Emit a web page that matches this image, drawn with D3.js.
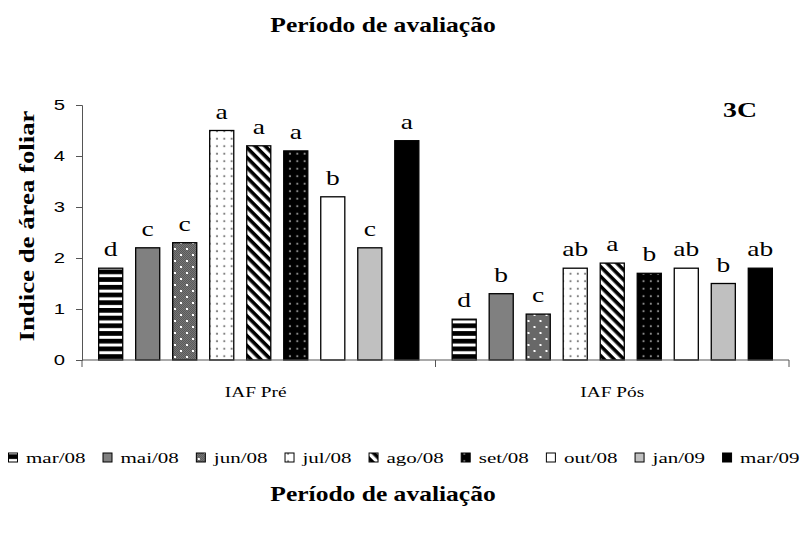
<!DOCTYPE html>
<html>
<head>
<meta charset="utf-8">
<script src="https://cdn.jsdelivr.net/npm/d3@7"></script>
<style>
  body { margin: 0; background: #fff; }
  svg { display: block; }
</style>
</head>
<body>
<div id="chart"></div>
<script>
// categories and series
var categories = ["IAF Pré", "IAF Pós"];
var periods = ["mar/08", "mai/08", "jun/08", "jul/08", "ago/08", "set/08", "out/08", "jan/09", "mar/09"];
var valuesPre = [1.8, 2.2, 2.3, 4.5, 4.2, 4.1, 3.2, 2.2, 4.3];
var valuesPos = [0.8, 1.3, 0.9, 1.8, 1.9, 1.7, 1.8, 1.5, 1.8];
var lettersPre = ["d", "c", "c", "a", "a", "a", "b", "c", "a"];
var lettersPos = ["d", "b", "c", "ab", "a", "b", "ab", "b", "ab"];
var yTicks = [0, 1, 2, 3, 4, 5];

var w = 802, h = 537;
var serif = "'Liberation Serif', 'Times New Roman', serif";
var sans = "'Liberation Sans', Arial, sans-serif";

var svg = d3.select("#chart").append("svg")
    .attr("width", w)
    .attr("height", h);

// the fonts in the picture are drawn wide, stretch text along its length
function stretch(sel, sx) {
  sel.each(function() {
    var len = this.getComputedTextLength();
    d3.select(this).attr("textLength", len * sx).attr("lengthAdjust", "spacingAndGlyphs");
  });
}

//Patterns
var defs = svg.append("defs");
function pattern(id, pw, ph, bg) {
  var p = defs.append("pattern").attr("id", id)
      .attr("patternUnits", "userSpaceOnUse")
      .attr("width", pw).attr("height", ph);
  p.append("rect").attr("width", pw).attr("height", ph).attr("fill", bg);
  return p;
}
// horizontal stripes
var p0 = pattern("p0", 8, 7.7, "#fff");
p0.append("rect").attr("y", 0).attr("width", 8).attr("height", 4.7).attr("fill", "#000");
// fine checker with white sparkles
var p2 = pattern("p2", 12, 12, "#777");
for (var i = 0; i < 12; i++) {
  for (var j = 0; j < 12; j++) {
    if ((i + j) % 2 === 0) p2.append("rect").attr("x", i).attr("y", j).attr("width", 1).attr("height", 1).attr("fill", "#5a5a5a");
  }
}
p2.append("rect").attr("x", 2).attr("y", 2).attr("width", 2).attr("height", 2).attr("fill", "#fff");
p2.append("rect").attr("x", 8).attr("y", 8).attr("width", 2).attr("height", 2).attr("fill", "#fff");
// white with gray dots
var p3 = pattern("p3", 7.3, 7.5, "#fff");
p3.append("circle").attr("cx", 3.6).attr("cy", 3.7).attr("r", 1.1).attr("fill", "#808080");
// diagonal stripes
var p4 = pattern("p4", 7, 7, "#fff").attr("patternTransform", "rotate(45)");
p4.append("rect").attr("width", 7).attr("height", 3.6).attr("fill", "#000");
// black with gray dots
var p5 = pattern("p5", 7.3, 7.5, "#000");
p5.append("circle").attr("cx", 3.6).attr("cy", 3.7).attr("r", 1.1).attr("fill", "#8a8a8a");

var fills = ["url(#p0)", "#808080", "url(#p2)", "url(#p3)", "url(#p4)", "url(#p5)", "#fff", "#c0c0c0", "#000"];

//Scales
var x0 = d3.scaleBand().domain(categories).range([82, 789]);
var x1 = d3.scaleBand().domain(periods).range([0, x0.bandwidth()])
    .paddingInner(0.35).paddingOuter(0.45);
var y = d3.scaleLinear().domain([0, 5]).range([360, 105]);

var groups = [
  { cat: categories[0], values: valuesPre, letters: lettersPre },
  { cat: categories[1], values: valuesPos, letters: lettersPos }
];

var g = svg.selectAll("g.grp")
   .data(groups)
   .enter()
   .append("g")
   .attr("class", "grp")
   .attr("transform", function(d) { return "translate(" + x0(d.cat) + ",0)"; });

g.selectAll("rect")
   .data(function(d) { return d.values.map(function(v, i) { return { v: v, i: i }; }); })
   .enter()
   .append("rect")
   .attr("x", function(d) { return x1(periods[d.i]); })
   .attr("y", function(d) { return y(d.v); })
   .attr("width", x1.bandwidth())
   .attr("height", function(d) { return y(0) - y(d.v); })
   .attr("fill", function(d) { return fills[d.i]; })
   .attr("stroke", "#000")
   .attr("stroke-width", 1.3);

var letters = g.selectAll("text.lbl")
   .data(function(d) { return d.values.map(function(v, i) { return { v: v, i: i, t: d.letters[i] }; }); })
   .enter()
   .append("text")
   .attr("class", "lbl")
   .text(function(d) { return d.t; })
   .attr("x", function(d) { return x1(periods[d.i]) + x1.bandwidth() / 2; })
   .attr("y", function(d) { return y(d.v) - 12; })
   .attr("text-anchor", "middle")
   .attr("font-family", serif)
   .attr("font-size", "22px")
   .attr("fill", "#000");
stretch(letters, 1.25);

//Axes
var yAxis = svg.append("g")
   .attr("transform", "translate(82,0)")
   .call(d3.axisLeft(y).tickValues(yTicks).tickSize(6).tickPadding(11).tickFormat(d3.format("d")));
yAxis.selectAll("path, line").attr("stroke", "#555");
yAxis.selectAll("text")
   .attr("font-family", sans)
   .attr("font-size", "15px")
   .attr("fill", "#000");
stretch(yAxis.selectAll("text"), 1.35);

var xAxis = svg.append("g")
   .attr("transform", "translate(0,360)");
xAxis.append("line")
   .attr("x1", 82).attr("x2", 789)
   .attr("stroke", "#555");
xAxis.selectAll("line.tk")
   .data([82, x0(categories[1]), 789])
   .enter()
   .append("line")
   .attr("class", "tk")
   .attr("x1", function(d) { return d; }).attr("x2", function(d) { return d; })
   .attr("y1", 0).attr("y2", 7)
   .attr("stroke", "#555");
var catLabels = xAxis.selectAll("text")
   .data(categories)
   .enter()
   .append("text")
   .text(function(d) { return d; })
   .attr("x", function(d) { return x0(d) + x0.bandwidth() / 2 - (d === categories[0] ? 3 : 0); })
   .attr("y", 36.5)
   .attr("text-anchor", "middle")
   .attr("font-family", serif)
   .attr("font-size", "14px");
stretch(catLabels, 1.38);

//Titles
function title(yPos) {
  var t = svg.append("text")
     .text("Período de avaliação")
     .attr("x", 383)
     .attr("y", yPos)
     .attr("text-anchor", "middle")
     .attr("font-family", serif)
     .attr("font-weight", "bold")
     .attr("font-size", "22px");
  stretch(t, 1.16);
}
title(32);
title(501);

var yl = svg.append("text")
   .text("Indice de área foliar")
   .attr("transform", "translate(34,226) rotate(-90)")
   .attr("text-anchor", "middle")
   .attr("font-family", serif)
   .attr("font-weight", "bold")
   .attr("font-size", "20px");
stretch(yl, 1.34);

var tag = svg.append("text")
   .text("3C")
   .attr("x", 740)
   .attr("y", 117)
   .attr("text-anchor", "middle")
   .attr("font-family", serif)
   .attr("font-weight", "bold")
   .attr("font-size", "22px");
stretch(tag, 1.26);

//Legend
var legend = svg.append("g").attr("transform", "translate(8,0)");
var lx = 0;
periods.forEach(function(p, i) {
  var item = legend.append("g").attr("transform", "translate(" + lx + ",0)");
  item.append("rect")
     .attr("x", 0.5).attr("y", 453)
     .attr("width", 9).attr("height", 9)
     .attr("fill", fills[i])
     .attr("stroke", "#000");
  var t = item.append("text")
     .text(p)
     .attr("x", 18)
     .attr("y", 463)
     .attr("font-family", serif)
     .attr("font-size", "15px");
  var natural = t.node().getComputedTextLength();
  stretch(t, 1.4);
  lx += 18 + natural * 1.4 + 17;
});
</script>
</body>
</html>
